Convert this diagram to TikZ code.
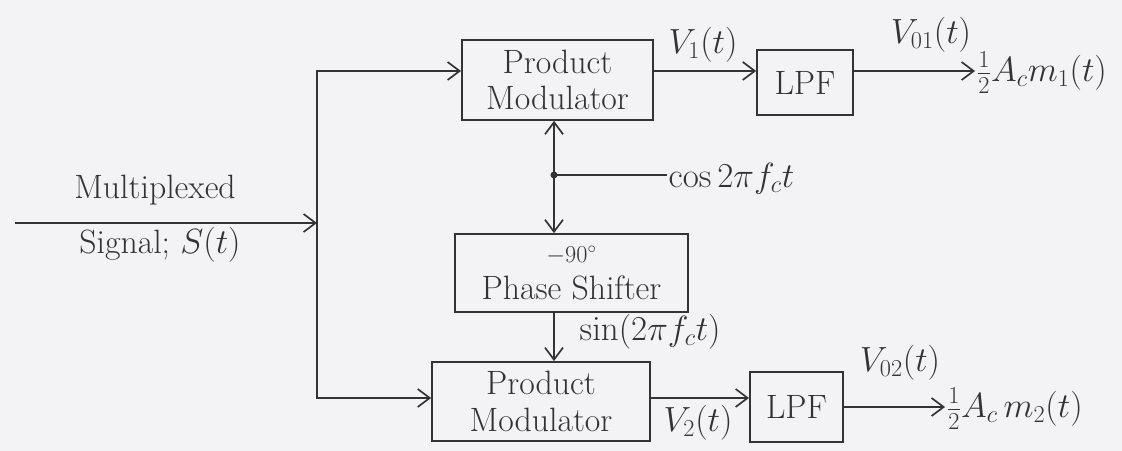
\documentclass[tikz,border=0pt]{standalone}
\usepackage{tikz}
\usetikzlibrary{arrows.meta,positioning}
\definecolor{ink}{HTML}{333333}
\definecolor{paper}{HTML}{F3F3F5}

\begin{document}
\begin{tikzpicture}[x=0.025cm,y=0.025cm,>={Straight Barb[length=3mm,width=4.5mm]},
  blk/.style={draw=ink,line width=1.2pt,inner sep=0pt,align=center,text=ink,
    font=\fontsize{24}{26}\selectfont},
  lbl/.style={text=ink,inner sep=1pt,font=\fontsize{24}{26}\selectfont},
  wire/.style={draw=ink,line width=1.2pt}]
  \fill[paper] (0,0) rectangle (1122,451);
  \useasboundingbox (0,0) rectangle (1122,451);

  % blocks
  \node[blk,minimum width=4.78cm,minimum height=2cm] (pm1) at (557.5,371) {Product\\Modulator};
  \node[blk,minimum width=2.4cm,minimum height=1.63cm] (lpf1) at (805,368.5) {LPF};
  \node[blk,minimum width=5.83cm,minimum height=1.95cm] (ps) at (571.5,178)
    {{\fontsize{17}{19}\selectfont$-90^\circ$}\\Phase Shifter};
  \node[blk,minimum width=5.45cm,minimum height=1.98cm] (pm2) at (541,49.5) {Product\\Modulator};
  \node[blk,minimum width=2.33cm,minimum height=1.75cm] (lpf2) at (796.5,44) {LPF};

  % rows and branch points
  \coordinate (toprow) at (0,380);
  \coordinate (botrow) at (0,53);
  \coordinate (src) at (15,228);
  \coordinate (split) at (317,228);
  \coordinate (tap) at (554,276);

  % labels
  \node[lbl] (mux) at (155,261) {Multiplexed};
  \node[lbl] (sig) at (160,206) {Signal; $S(t)$};
  \node[lbl] (v1) at (703,406) {$V_1(t)$};
  \node[lbl] (vo1) at (931,416) {$V_{01}(t)$};
  \node[lbl,anchor=west] (out1) at (975,378) {$\frac{1}{2}A_c m_1(t)$};
  \node[lbl,anchor=west] (cosl) at (667,272) {$\cos 2\pi f_c t$};
  \node[lbl,anchor=west] (sinl) at (578,119) {$\sin(2\pi f_c t)$};
  \node[lbl] (v2) at (698,28) {$V_2(t)$};
  \node[lbl] (vo2) at (900,88) {$V_{02}(t)$};
  \node[lbl,anchor=west] (out2) at (945,42) {$\frac{1}{2}A_c\, m_2(t)$};

  % connectors
  \draw[wire,->] (src) -- (split);
  \draw[wire,->] (split) |- (pm1.west |- toprow);
  \draw[wire,->] (split) |- (pm2.west |- botrow);
  \draw[wire,->] (pm1.east |- toprow) -- (lpf1.west |- toprow);
  \draw[wire,->] (lpf1.east |- toprow) -- (out1.west |- toprow);
  \draw[wire,->] (pm2.east |- botrow) -- (lpf2.west |- botrow);
  \draw[wire,->] (lpf2.east) -- (out2.west |- lpf2.east);
  \fill[ink] (tap) circle (2.5pt);
  \draw[wire,->] (tap) -- (tap |- pm1.south);
  \draw[wire,->] (tap) -- (tap |- ps.north);
  \draw[wire] (tap) -- (tap -| cosl.west);
  \draw[wire,->] (tap |- ps.south) -- (tap |- pm2.north);
\end{tikzpicture}
\end{document}
